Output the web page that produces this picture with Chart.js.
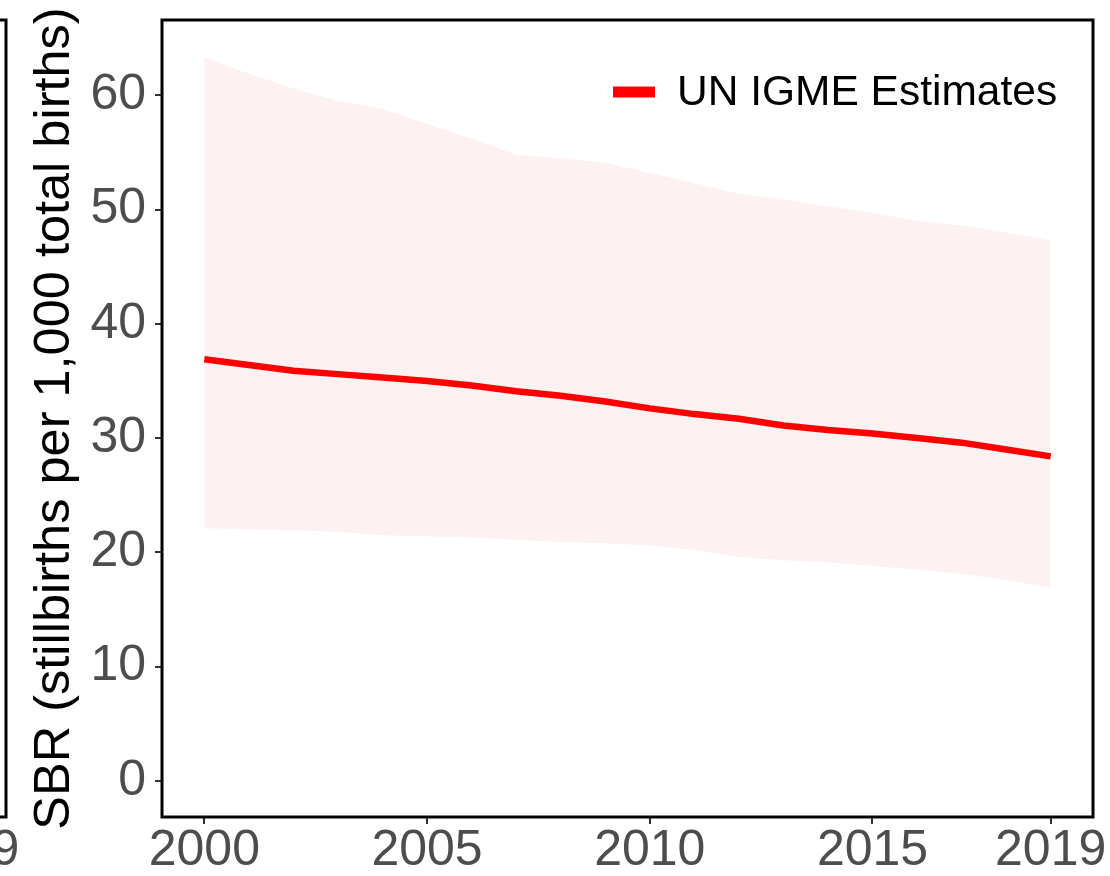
<!DOCTYPE html>
<html>
<head>
<meta charset="utf-8">
<script src="https://cdn.jsdelivr.net/npm/chart.js@4.4.1/dist/chart.umd.min.js"></script>
<style>
  body { margin: 0; background: #fff; }
  canvas { display: block; }
</style>
</head>
<body>
<canvas id="sbrChart" width="1110" height="876"></canvas>
<script>
// values
const years = [2000, 2001, 2002, 2003, 2004, 2005, 2006, 2007, 2008, 2009,
               2010, 2011, 2012, 2013, 2014, 2015, 2016, 2017, 2018, 2019];
const sbrEstimate = [36.9, 36.4, 35.9, 35.6, 35.3, 35.0, 34.6, 34.1, 33.7, 33.2,
                     32.6, 32.1, 31.7, 31.1, 30.7, 30.4, 30.0, 29.6, 29.0, 28.4];
const sbrUpper = [63.3, 61.9, 60.6, 59.5, 58.8, 57.5, 56.2, 54.8, 54.5, 54.1,
                  53.2, 52.3, 51.4, 50.9, 50.3, 49.7, 49.0, 48.6, 48.0, 47.3];
const sbrLower = [22.1, 22.0, 21.9, 21.8, 21.5, 21.4, 21.3, 21.1, 20.9, 20.8,
                  20.6, 20.2, 19.6, 19.3, 19.1, 18.8, 18.5, 18.1, 17.6, 16.9];
const xTicks = [2000, 2005, 2010, 2015, 2019];
const yTicks = [0, 10, 20, 30, 40, 50, 60];
const legendLabel = 'UN IGME Estimates';
const yTitle = 'SBR (stillbirths per 1,000 total births)';
const clippedTickLabel = '2019'; // tick label of the neighbouring panel, mostly cut off

const fontFamily = '"Liberation Sans", Arial, Helvetica, sans-serif';
const tickSize = 50;
const toPoints = vals => years.map((y, i) => ({ x: y, y: vals[i] }));

// draws the full panel box, the legend and the edge of the panel to the left
const panelExtras = {
    id: 'panelExtras',
    afterDraw(chart) {
        const { ctx, chartArea: a } = chart;
        ctx.save();
        ctx.strokeStyle = '#000';
        ctx.lineWidth = 3;
        ctx.strokeRect(a.left, a.top, a.right - a.left, a.bottom - a.top);

        // right edge of the previous panel
        const edge = 6;
        ctx.beginPath();
        ctx.moveTo(-2, a.top);
        ctx.lineTo(edge, a.top);
        ctx.lineTo(edge, a.bottom);
        ctx.lineTo(-2, a.bottom);
        ctx.stroke();
        const xs = chart.scales.x;
        const gap = a.right - xs.getPixelForValue(2019);
        ctx.fillStyle = '#4d4d4d';
        ctx.font = tickSize + 'px ' + fontFamily;
        ctx.textAlign = 'center';
        ctx.textBaseline = 'middle';
        ctx.fillText(clippedTickLabel, edge - gap, xs.top + 7 + 2 + tickSize / 2);

        // legend
        ctx.strokeStyle = '#ff0000';
        ctx.lineWidth = 11;
        ctx.lineCap = 'butt';
        ctx.beginPath();
        ctx.moveTo(613, 92);
        ctx.lineTo(655, 92);
        ctx.stroke();
        ctx.fillStyle = '#000';
        ctx.font = '42.5px ' + fontFamily;
        ctx.textAlign = 'left';
        ctx.fillText(legendLabel, 677, 93);
        ctx.restore();
    }
};

const ctx = document.getElementById('sbrChart').getContext('2d');
let chart = new Chart(ctx, {
    type: 'line',
    data: {
        datasets: [{
            label: legendLabel,
            data: toPoints(sbrEstimate),
            borderColor: '#ff0000',
            borderWidth: 6.5,
            pointRadius: 0,
            fill: false,
            tension: 0
        }, {
            label: 'upper',
            data: toPoints(sbrUpper),
            borderWidth: 0,
            borderColor: 'rgba(0,0,0,0)',
            backgroundColor: '#fdf1f1',
            pointRadius: 0,
            fill: '+1',
            tension: 0
        }, {
            label: 'lower',
            data: toPoints(sbrLower),
            borderWidth: 0,
            borderColor: 'rgba(0,0,0,0)',
            pointRadius: 0,
            fill: false,
            tension: 0
        }]
    },
    options: {
        responsive: false,
        devicePixelRatio: 1,
        animation: false,
        layout: { padding: { left: 0, top: 20, right: 17, bottom: 0 } },
        plugins: {
            legend: { display: false },
            tooltip: { enabled: false }
        },
        scales: {
            x: {
                type: 'linear',
                min: 1999.05,
                max: 2019.95,
                afterBuildTicks: scale => { scale.ticks = xTicks.map(v => ({ value: v })); },
                afterFit: scale => {
                    scale.height = 59;
                    scale.paddingLeft = 0;
                    scale.paddingRight = 0;
                },
                grid: { drawOnChartArea: false, tickLength: 7, color: '#333', lineWidth: 2 },
                border: { display: false },
                ticks: {
                    color: '#4d4d4d',
                    padding: 2,
                    maxRotation: 0,
                    font: { family: fontFamily, size: tickSize, lineHeight: 1 },
                    callback: v => String(v)
                }
            },
            y: {
                min: -3.17,
                max: 66.6,
                afterBuildTicks: scale => { scale.ticks = yTicks.map(v => ({ value: v })); },
                afterFit: scale => {
                    scale.width = 162;
                    scale.paddingTop = 0;
                    scale.paddingBottom = 0;
                },
                grid: { drawOnChartArea: false, tickLength: 7, color: '#333', lineWidth: 2 },
                border: { display: false },
                ticks: {
                    color: '#4d4d4d',
                    padding: 9,
                    font: { family: fontFamily, size: tickSize },
                    callback: v => String(v)
                },
                title: {
                    display: true,
                    text: yTitle,
                    color: '#000',
                    padding: { top: 25, bottom: 0 },
                    font: { family: fontFamily, size: 50.5 }
                }
            }
        }
    },
    plugins: [panelExtras]
});
</script>
</body>
</html>
